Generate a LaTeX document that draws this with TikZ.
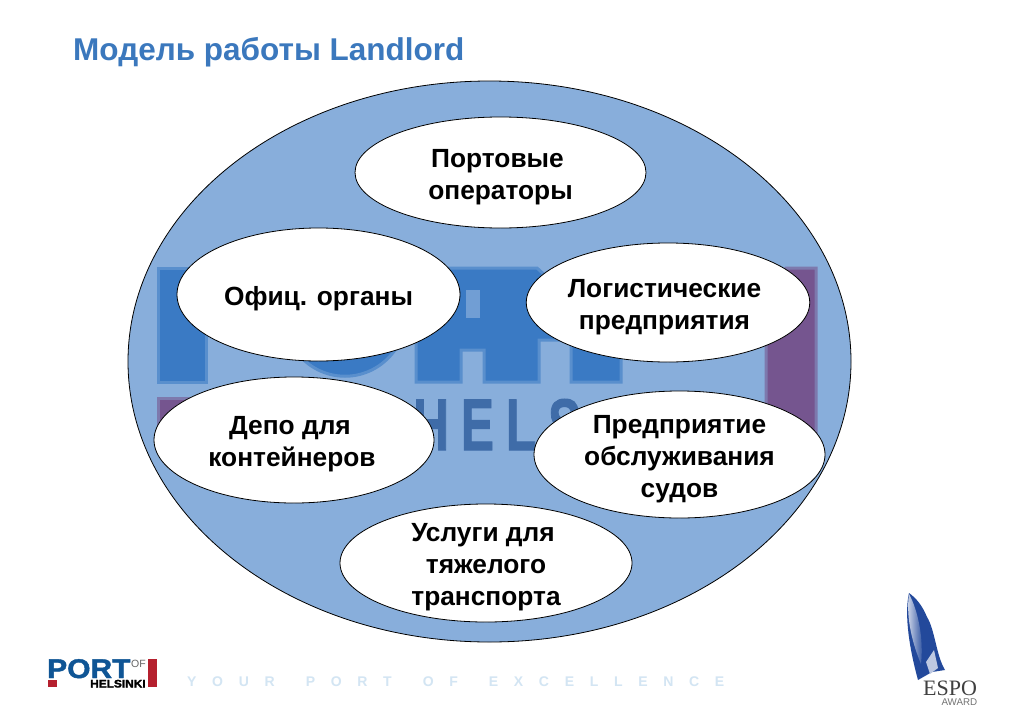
\documentclass[tikz,border=0pt]{standalone}
\usepackage{fontspec}
\setmainfont{Liberation Sans}
\newfontfamily\serifespo{Liberation Serif}
\newfontfamily\tagfont[LetterSpace=112]{Liberation Sans}
\newfontfamily\helsfont[LetterSpace=24,BoldFeatures={FakeBold=1.5}]{Liberation Sans}
\newfontfamily\logofont[BoldFeatures={FakeBold=1.6}]{Liberation Sans}
\usetikzlibrary{shapes.geometric}
\definecolor{outerblue}{HTML}{88AEDB}
\definecolor{markblue}{HTML}{3A7AC4}
\definecolor{markhels}{HTML}{3F6CA8}
\definecolor{markpurple}{HTML}{75558F}
\definecolor{titleblue}{HTML}{3B78BD}
\definecolor{logoblue}{HTML}{0F5595}
\definecolor{logored}{HTML}{B5202E}
\definecolor{tagblue}{HTML}{D3E5F3}
\definecolor{quillblue}{HTML}{23499B}
\newcommand{\ovalgap}{\rule{0pt}{27pt}}
\begin{document}
\begin{tikzpicture}[x=1pt,y=-1pt,
        oval/.style={draw,ellipse,fill=white,inner xsep=0pt,inner ysep=-12pt,outer sep=0pt,line width=0.8pt,align=center,
            font=\fontsize{26.3}{32}\selectfont\bfseries},
        markpart/.style={fill=#1,draw=#1!60!outerblue,line width=3pt}]
    \useasboundingbox (0,0) rectangle (1024,709);
    \fill[white] (0,0) rectangle (1024,709);
    \node[anchor=west,inner sep=0pt,text=titleblue,font=\fontsize{31.5}{36}\selectfont\bfseries] (title) at (73,52) {Модель работы Landlord};
    \node[draw,ellipse,fill=outerblue,inner sep=0pt,line width=0.8pt,minimum width=723,minimum height=561] (outer) at (489.5,361.5) {};
    \fill[markpart=markblue] (158,268) rectangle (206,382);
    \fill[markpart=markblue] (295,350) .. controls (320,385) and (370,385) .. (395,350) -- cycle;
    \fill[markpart=markblue] (416,268) -- (537,268) -- (572,300) -- (582,341) -- (621,346) -- (621,382) -- (571,382) -- (571,340) -- (539,340) -- (539,382) -- (484,382) -- (484,350) -- (461,350) -- (461,382) -- (416,382) -- cycle;
    \fill[outerblue!70!markblue] (466,290) rectangle (480,318);
    \fill[markpart=markpurple] (766,300) -- (786,268) -- (816,268) -- (816,449) -- (766,449) -- cycle;
    \fill[markpart=markpurple] (158,398) rectangle (195,449);
    \node[anchor=base west,inner sep=0pt,text=markhels,xscale=0.68,font=\fontsize{73}{73}\helsfont\bfseries] (hels) at (413,450) {HELS};
    \node[oval,minimum width=291,minimum height=111] (operators) at (500.5,172.5) {\ovalgap Портовые\hspace*{6pt}\\операторы};
    \node[oval,minimum width=283,minimum height=133] (officials) at (318.5,294.5) {\ovalgap Офиц. органы};
    \node[oval,minimum width=282,minimum height=119] (logistics) at (668,302.5) {\ovalgap Логистические\hspace*{7pt}\\предприятия\hspace*{7pt}};
    \node[oval,minimum width=280,minimum height=126] (depot) at (294,440) {\ovalgap Депо для\hspace*{8pt}\\контейнеров\hspace*{4pt}};
    \node[oval,minimum width=291,minimum height=127] (service) at (679.5,454.5) {\ovalgap Предприятие\\обслуживания\hspace*{7pt}\\судов};
    \node[oval,minimum width=292,minimum height=118] (heavy) at (486,563) {\ovalgap Услуги для\hspace*{6pt}\\тяжелого\hspace*{8pt}\\транспорта};
    \node[anchor=base west,inner sep=0pt,text depth=0pt,text=logoblue,xscale=1.11,font=\fontsize{27}{27}\logofont\bfseries] (logoport) at (47,678) {PORT};
    \node[anchor=base west,inner sep=0pt,text=black!60,font=\fontsize{10.5}{10}\selectfont] (logoof) at (131,667) {OF};
    \node[anchor=base west,inner sep=0pt,text height=8pt,text depth=0pt,xscale=1.08,font=\fontsize{11}{11}\logofont\bfseries] (logohel) at (90,687.5) {HELSINKI};
    \fill[logored] (148,659) rectangle (157,687);
    \fill[logored] (48,680) rectangle (57,687);
    \node[anchor=base west,inner sep=0pt,text=tagblue,font=\fontsize{14}{14}\tagfont\bfseries] (tagline) at (187,686) {YOUR\hspace{11.5pt} PORT\hspace{11.5pt} OF\hspace{11.5pt} EXCELLENCE};
    \fill[quillblue] (909,593) .. controls (905,610) and (907,640) .. (918,680) -- (932,672) -- (945,670) .. controls (936,655) and (935,630) .. (927,617) .. controls (922,605) and (916,598) .. (909,593) -- cycle;
    \shade[left color=white!85!quillblue,right color=quillblue] (909,594) .. controls (906,615) and (911,640) .. (921,664) .. controls (924,640) and (918,610) .. (909,594) -- cycle;
    \fill[white!70!quillblue] (926,662) -- (934,650) -- (938,668) -- (930,674) -- cycle;
    \node[anchor=base west,inner sep=0pt,text depth=0pt,text=black!75,font=\fontsize{22}{22}\serifespo] (espo) at (923,695) {ESPO};
    \node[anchor=base east,inner sep=0pt,text height=7pt,text depth=0pt,text=black!55,font=\fontsize{9.8}{9}\selectfont] (award) at (977.5,705) {AWARD};
\end{tikzpicture}
\end{document}
